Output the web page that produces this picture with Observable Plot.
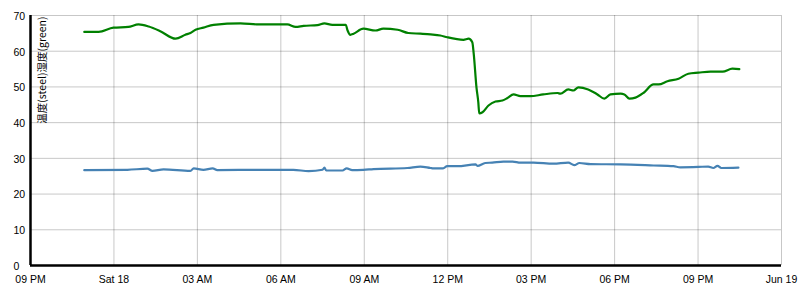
<!DOCTYPE html>
<html>
<head>
<meta charset="utf-8">
<script src="https://cdn.jsdelivr.net/npm/d3@7"></script>
<script src="https://cdn.jsdelivr.net/npm/@observablehq/plot@0.6"></script>
<style>
  html, body { margin: 0; padding: 0; background: #fff; }
  #chart svg { display: block; }
</style>
</head>
<body>
<div id="chart"></div>
<script>
const yLabel = "温度(steel)湿度(green)";

const xTickTimes = ["2016-06-17T21:00", "2016-06-18T00:00", "2016-06-18T03:00", "2016-06-18T06:00",
  "2016-06-18T09:00", "2016-06-18T12:00", "2016-06-18T15:00", "2016-06-18T18:00",
  "2016-06-18T21:00", "2016-06-19T00:00"];
const xTickLabels = ["09 PM", "Sat 18", "03 AM", "06 AM", "09 AM", "12 PM", "03 PM", "06 PM", "09 PM", "Jun 19"];
const yTicks = [0, 10, 20, 30, 40, 50, 60, 70];

const greenTimes = ["2016-06-17T22:56", "2016-06-17T23:27", "2016-06-17T23:59", "2016-06-18T00:31",
  "2016-06-18T00:53", "2016-06-18T01:15", "2016-06-18T01:40", "2016-06-18T02:13", "2016-06-18T02:34",
  "2016-06-18T02:45", "2016-06-18T02:56", "2016-06-18T03:13", "2016-06-18T03:35", "2016-06-18T04:33",
  "2016-06-18T05:12", "2016-06-18T06:14", "2016-06-18T06:32", "2016-06-18T06:49", "2016-06-18T07:19",
  "2016-06-18T07:34", "2016-06-18T07:51", "2016-06-18T08:20", "2016-06-18T08:24", "2016-06-18T08:30",
  "2016-06-18T08:37", "2016-06-18T08:58", "2016-06-18T09:24", "2016-06-18T09:41", "2016-06-18T10:12",
  "2016-06-18T10:35", "2016-06-18T11:01", "2016-06-18T11:23", "2016-06-18T11:44", "2016-06-18T11:59",
  "2016-06-18T12:34", "2016-06-18T12:45", "2016-06-18T12:53", "2016-06-18T12:56", "2016-06-18T13:02",
  "2016-06-18T13:06", "2016-06-18T13:08", "2016-06-18T13:15", "2016-06-18T13:28", "2016-06-18T13:43",
  "2016-06-18T13:58", "2016-06-18T14:09", "2016-06-18T14:22", "2016-06-18T14:37", "2016-06-18T14:58",
  "2016-06-18T15:26", "2016-06-18T15:57", "2016-06-18T16:03", "2016-06-18T16:20", "2016-06-18T16:31",
  "2016-06-18T16:42", "2016-06-18T17:03", "2016-06-18T17:23", "2016-06-18T17:38", "2016-06-18T17:51",
  "2016-06-18T18:13", "2016-06-18T18:21", "2016-06-18T18:32", "2016-06-18T18:45", "2016-06-18T19:02",
  "2016-06-18T19:24", "2016-06-18T19:35", "2016-06-18T19:54", "2016-06-18T20:18", "2016-06-18T20:39",
  "2016-06-18T21:01", "2016-06-18T21:27", "2016-06-18T21:53", "2016-06-18T22:14", "2016-06-18T22:29"];
const greenValues = [65.4, 65.4, 66.6, 66.8, 67.5, 66.9, 65.6, 63.5, 64.6, 65.1, 66.0, 66.6, 67.4, 67.8,
  67.5, 67.5, 66.8, 67.1, 67.3, 67.8, 67.4, 67.4, 65.8, 64.6, 64.9, 66.3, 65.8, 66.3, 66.0, 65.1, 64.9,
  64.7, 64.4, 63.9, 63.2, 63.5, 62.5, 59.4, 49.9, 45.7, 42.6, 42.9, 44.8, 45.9, 46.2, 46.9, 47.9, 47.4,
  47.4, 47.9, 48.3, 48.1, 49.3, 49.0, 49.9, 49.3, 47.9, 46.7, 47.9, 48.1, 47.9, 46.7, 47.0, 48.3, 50.7,
  50.7, 51.6, 52.3, 53.7, 54.0, 54.3, 54.3, 55.1, 55.0];

const steelTimes = ["2016-06-17T22:56", "2016-06-18T00:29", "2016-06-18T01:12", "2016-06-18T01:23",
  "2016-06-18T01:47", "2016-06-18T02:45", "2016-06-18T02:52", "2016-06-18T03:13", "2016-06-18T03:33",
  "2016-06-18T03:43", "2016-06-18T05:16", "2016-06-18T06:27", "2016-06-18T07:00", "2016-06-18T07:30",
  "2016-06-18T07:34", "2016-06-18T07:38", "2016-06-18T08:13", "2016-06-18T08:22", "2016-06-18T08:34",
  "2016-06-18T08:58", "2016-06-18T09:20", "2016-06-18T10:33", "2016-06-18T11:01", "2016-06-18T11:23",
  "2016-06-18T11:29", "2016-06-18T11:49", "2016-06-18T11:59", "2016-06-18T12:21", "2016-06-18T13:00",
  "2016-06-18T13:04", "2016-06-18T13:21", "2016-06-18T13:36", "2016-06-18T14:00", "2016-06-18T14:20",
  "2016-06-18T14:37", "2016-06-18T15:05", "2016-06-18T15:48", "2016-06-18T16:20", "2016-06-18T16:33",
  "2016-06-18T16:44", "2016-06-18T17:08", "2016-06-18T18:13", "2016-06-18T19:24", "2016-06-18T20:07",
  "2016-06-18T20:22", "2016-06-18T21:01", "2016-06-18T21:22", "2016-06-18T21:33", "2016-06-18T21:42",
  "2016-06-18T21:50", "2016-06-18T22:27"];
const steelValues = [26.7, 26.8, 27.1, 26.5, 26.9, 26.5, 27.2, 26.8, 27.2, 26.7, 26.8, 26.8, 26.4, 26.8,
  27.4, 26.6, 26.6, 27.2, 26.7, 26.8, 27.0, 27.3, 27.7, 27.3, 27.2, 27.2, 27.8, 27.8, 28.3, 27.9, 28.7,
  28.8, 29.1, 29.1, 28.8, 28.8, 28.5, 28.8, 28.1, 28.7, 28.4, 28.3, 28.0, 27.8, 27.5, 27.6, 27.7, 27.3,
  27.9, 27.3, 27.4];

const parse = s => new Date(s + ":00Z");
const green = greenTimes.map((t, i) => ({t: parse(t), v: greenValues[i]}));
const steel = steelTimes.map((t, i) => ({t: parse(t), v: steelValues[i]}));
const xTicks = xTickTimes.map(parse);
const labelOf = new Map(xTicks.map((d, i) => [+d, xTickLabels[i]]));

const font = "Liberation Sans, Arial, sans-serif";

const chart = Plot.plot({
  width: 804,
  height: 295,
  marginLeft: 30,
  marginRight: 23,
  marginTop: 15,
  marginBottom: 30,
  style: {fontFamily: font, fontSize: "10.5px", color: "#000", background: "#fff"},
  x: {type: "utc", domain: [xTicks[0], xTicks[xTicks.length - 1]]},
  y: {domain: [0, 70]},
  marks: [
    Plot.gridX(xTicks, {stroke: "#000", strokeOpacity: 0.22, strokeWidth: 1}),
    Plot.gridY(yTicks, {stroke: "#000", strokeOpacity: 0.22, strokeWidth: 1}),
    Plot.axisX(xTicks, {tickSize: 0, tickPadding: 10, tickFormat: d => labelOf.get(+d), fontSize: 10.5, label: null}),
    Plot.axisY(yTicks, {tickSize: 0, tickPadding: 3, textAnchor: "start", dx: -14, dy: 1, fontSize: 10.5, label: null}),
    Plot.line(steel, {x: "t", y: "v", stroke: "steelblue", strokeWidth: 2.2, curve: "monotone-x"}),
    Plot.line(green, {x: "t", y: "v", stroke: "green", strokeWidth: 2.2, curve: "monotone-x"}),
    Plot.ruleY([0], {stroke: "#000", strokeWidth: 2.5}),
    Plot.ruleX([xTicks[0]], {stroke: "#000", strokeWidth: 2.5}),
    Plot.text([yLabel], {frameAnchor: "top-left", rotate: -90, textAnchor: "end", dx: 8, dy: 1,
      fontSize: 10.5, fill: "#000", fontFamily: "Noto Sans CJK JP, sans-serif"})
  ]
});
document.getElementById("chart").appendChild(chart);
</script>
</body>
</html>
